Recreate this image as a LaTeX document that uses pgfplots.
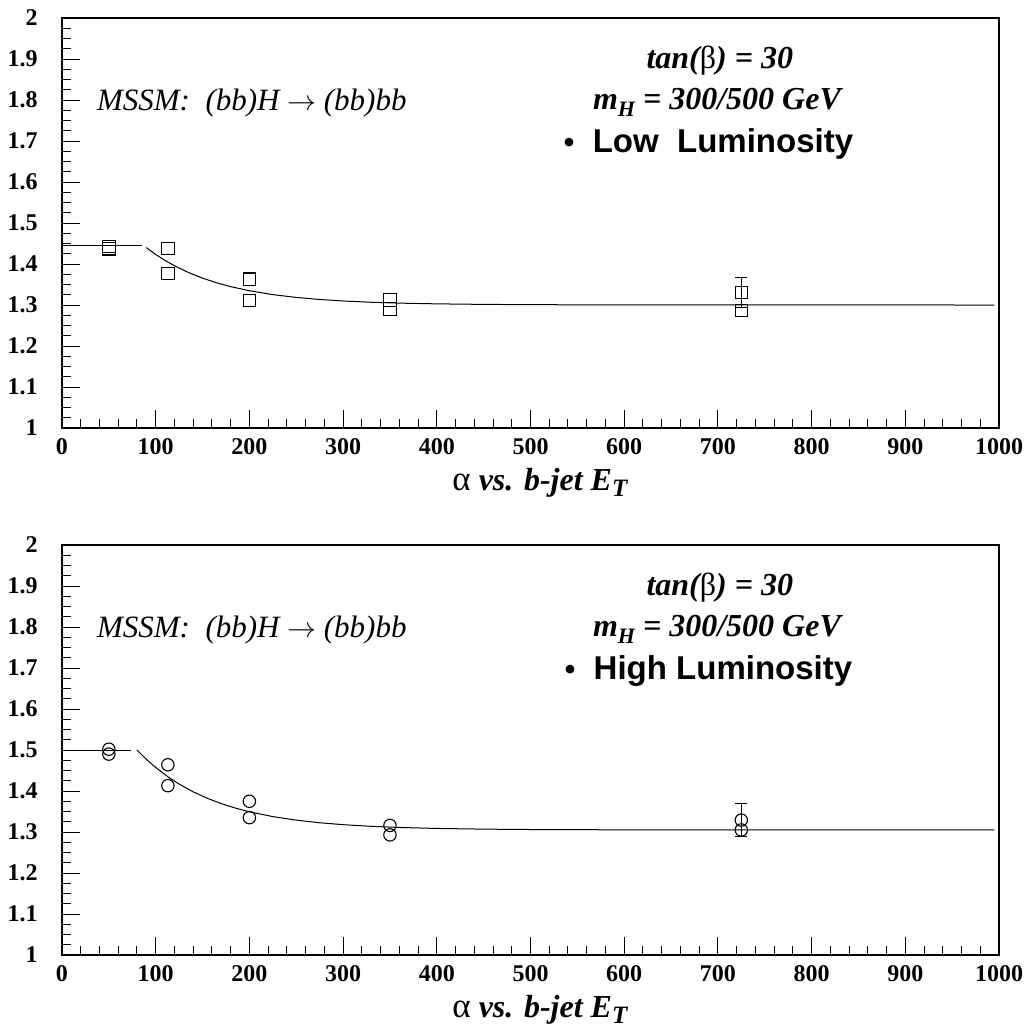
\documentclass[border=0pt]{standalone}
\usepackage{fontspec}
\setmainfont{Liberation Serif}
\newfontfamily\helv{Liberation Sans}
\usepackage{pgfplots}
\pgfplotsset{compat=1.18}

\pgfplotsset{
  myax/.style={
    width=468.5pt, height=205pt, scale only axis,
    xmin=0, xmax=1000, ymin=1, ymax=2,
    xtick distance=100, ytick distance=0.1,
    minor x tick num=4, minor y tick num=3,
    xtick pos=bottom, ytick pos=left,
    tick align=inside,
    major tick length=9pt, minor tick length=4.3pt,
    every tick/.style={black, line width=0.5pt},
    axis line style={line width=0.6pt},
    tick label style={font=\fontsize{12}{12}\selectfont\bfseries},
    /pgf/number format/assume math mode=true,
    /pgf/number format/1000 sep={},
    yticklabel style={anchor=east, inner sep=0pt, xshift=-12pt},
    xticklabel style={anchor=north, inner sep=0pt, yshift=-5pt},
    clip=false,
    anchor=south west,
  },
  fitline/.style={black, line width=0.5pt, no marks},
  sqm/.style={only marks, mark=square, mark size=3.1pt, black, mark options={line width=0.55pt}},
  cim/.style={only marks, mark=o, mark size=3.1pt, black, mark options={line width=0.55pt}},
}
\tikzset{lab/.style={font=\fontsize{16}{16}\selectfont\bfseries\itshape}}
\newcommand{\xlab}{{\upshape\mdseries\fontsize{17.5}{17.5}\selectfont α} vs. b-jet E\raisebox{-0.45ex}{\fontsize{12.5}{12.5}\selectfont T}}
\newcommand{\mssm}{MSSM:\ \ (bb)H\ $\rightarrow$\ (bb)bb}

\begin{document}
\begin{tikzpicture}
\useasboundingbox (0,0) rectangle (513.5pt,-514pt);

% ---------------- top panel ----------------
\begin{axis}[myax, at={(31pt,-214pt)}]
\addplot[fitline] coordinates {(0,1.446) (85,1.446)};
\addplot[fitline] coordinates {
(90,1.440) (100,1.4233) (110,1.4087) (120,1.3958) (135,1.3792) (150,1.3655)
(165,1.3542) (180,1.3448) (200,1.3348) (225,1.3253) (250,1.3185) (275,1.3135)
(300,1.3098) (330,1.3067) (360,1.3046) (400,1.3028) (450,1.3015) (500,1.3008)
(600,1.3002) (700,1.3001) (995,1.3000)};
\addplot[sqm, mark options={fill=white, line width=0.55pt},
  error bars/.cd, y dir=both, y explicit,
  error bar style={line width=0.5pt},
  error mark options={rotate=90, mark size=3pt, line width=0.5pt}]
  coordinates {(725,1.331) +- (0,0.036)};
\addplot[sqm] coordinates {
(50,1.437) (50,1.443) (113,1.438) (113,1.377) (200,1.363) (200,1.311)
(350,1.312) (350,1.290) (725,1.286)};
\node[lab, anchor=base] at (axis cs:702,1.878) {tan({\upshape\mdseries β}) = 30};
\node[lab, anchor=base] at (axis cs:699,1.776) {m\raisebox{-0.45ex}{\fontsize{11}{11}\selectfont H} = 300/500 GeV};
\node[anchor=base, font=\helv\fontsize{16.5}{16.5}\selectfont\bfseries] at (axis cs:690,1.671) {{\fontsize{15}{15}\selectfont•}\ \ Low\ \ Luminosity};
\node[anchor=base west, inner sep=0pt, font=\fontsize{15.5}{15.5}\selectfont\itshape] at (axis cs:37,1.775) {\mssm};
\node[lab, anchor=base, yshift=-31pt] at (axis cs:510,1) {\xlab};
\end{axis}

% ---------------- bottom panel ----------------
\begin{axis}[myax, at={(31pt,-477.5pt)}]
\addplot[fitline] coordinates {(0,1.500) (74,1.500)};
\addplot[fitline] coordinates {
(80,1.500) (90,1.4774) (100,1.4573) (113,1.4347) (125,1.4169) (140,1.3980)
(155,1.3823) (170,1.3692) (185,1.3584) (200,1.3493) (225,1.3376) (250,1.3289)
(275,1.3226) (300,1.3179) (330,1.3139) (360,1.3111) (400,1.3087) (450,1.3070)
(500,1.3061) (600,1.3053) (700,1.3051) (995,1.3050)};
\addplot[cim, mark options={fill=white, line width=0.55pt},
  error bars/.cd, y dir=both, y explicit,
  error bar style={line width=0.5pt},
  error mark options={rotate=90, mark size=3pt, line width=0.5pt}]
  coordinates {(725,1.329) +- (0,0.040)};
\addplot[cim] coordinates {
(50,1.502) (50,1.490) (113,1.464) (113,1.413) (200,1.375) (200,1.335)
(350,1.316) (350,1.293) (725,1.305)};
\node[lab, anchor=base] at (axis cs:702,1.878) {tan({\upshape\mdseries β}) = 30};
\node[lab, anchor=base] at (axis cs:699,1.776) {m\raisebox{-0.45ex}{\fontsize{11}{11}\selectfont H} = 300/500 GeV};
\node[anchor=base, font=\helv\fontsize{16.5}{16.5}\selectfont\bfseries] at (axis cs:690,1.671) {{\fontsize{15}{15}\selectfont•}\ \ High Luminosity};
\node[anchor=base west, inner sep=0pt, font=\fontsize{15.5}{15.5}\selectfont\itshape] at (axis cs:37,1.775) {\mssm};
\node[lab, anchor=base, yshift=-31pt] at (axis cs:510,1) {\xlab};
\end{axis}
\end{tikzpicture}
\end{document}
